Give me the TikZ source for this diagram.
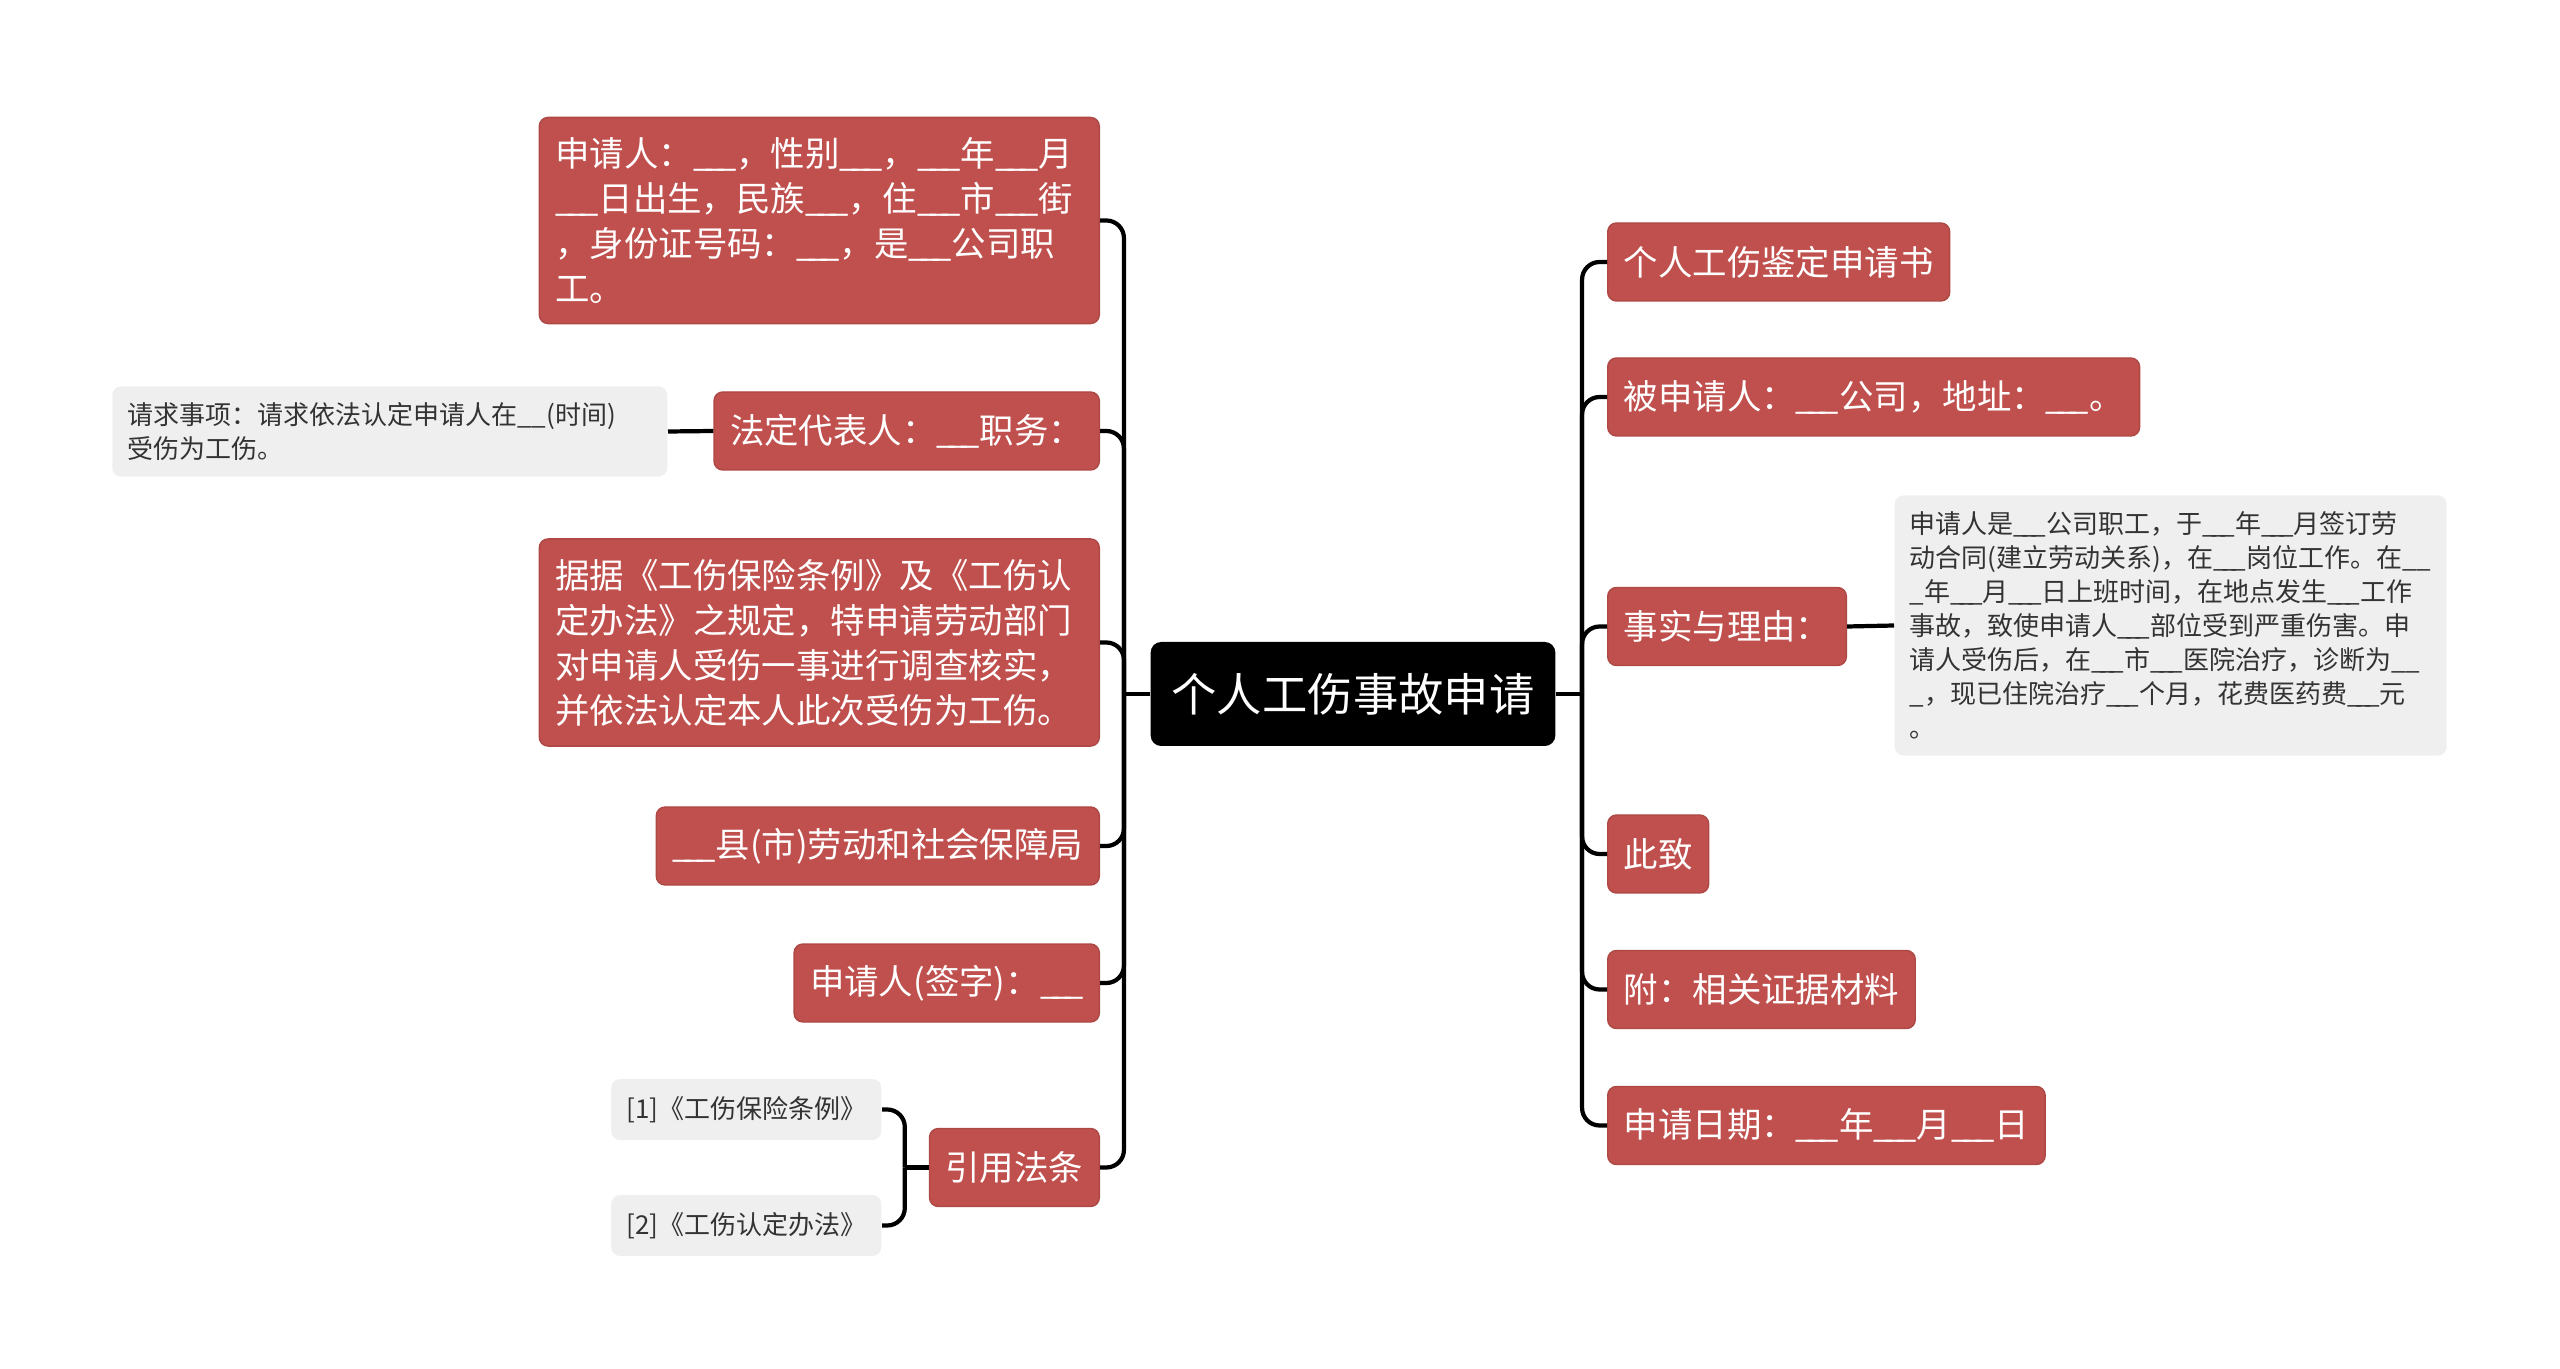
\documentclass[tikz,border=0pt]{standalone}
\usepackage{fontspec}
\setmainfont{Noto Sans CJK SC}
\usetikzlibrary{positioning}

\definecolor{boxred}{HTML}{C0504D}
\definecolor{boxgray}{HTML}{EFEFEF}
\definecolor{textgray}{HTML}{333333}
\newcommand{\blank}{\_\kern-0.21em\_\kern-0.21em\_}

\begin{document}
\begin{tikzpicture}[
  rootbox/.style={fill=black, rounded corners=3pt, text=white, font=\fontsize{12.9}{15}\selectfont, inner xsep=0.21cm, minimum height=1.04cm},
  redbox/.style={fill=boxred, draw=boxred!90!black, rounded corners=2.5pt, text=white, font=\fontsize{9.8}{12.8}\selectfont, inner xsep=0.16cm, inner ysep=0.2cm, minimum height=0.78cm, align=left},
  graybox/.style={fill=boxgray, rounded corners=2.5pt, text=textgray, font=\fontsize{7.4}{9.7}\selectfont, inner xsep=0.15cm, inner ysep=0.16cm, minimum height=0.61cm, align=left},
  link/.style={line width=1.2pt, rounded corners=5pt}]
  \useasboundingbox (0,0) rectangle (25.6,-13.69);

  % root
  \node (root) [rootbox] at (13.53,-6.94) {个人工伤事故申请};

  %%%%%%%%%%%%%%%%%% left branch
  \node (applicant) [redbox, anchor=east, text width=5.28cm] at (11,-2.205) {申请人：\blank，性别\blank，\blank 年\blank 月\\\blank 日出生，民族\blank，住\blank 市\blank 街\\，身份证号码：\blank，是\blank 公司职\\工。};

  \node (legalrep) [redbox, anchor=east] at (11,-4.31) {法定代表人：\blank 职务：};

  \node (request) [graybox, anchor=east, text width=5.25cm] at (6.68,-4.315) {请求事项：请求依法认定申请人在\_\_(时间)\\受伤为工伤。};

  \node (basis) [redbox, anchor=east, text width=5.28cm] at (11,-6.425) {据据《工伤保险条例》及《工伤认\\定办法》之规定，特申请劳动部门\\对申请人受伤一事进行调查核实，\\并依法认定本人此次受伤为工伤。};

  \node (bureau) [redbox, anchor=east] at (11,-8.46) {\blank 县(市)劳动和社会保障局};

  \node (signature) [redbox, anchor=east] at (11,-9.83) {申请人(签字)：\blank};

  \node (citation) [redbox, anchor=east] at (11,-11.675) {引用法条};

  \node (law1) [graybox, anchor=east] at (8.82,-11.095) {[1]《工伤保险条例》};

  \node (law2) [graybox, anchor=east] at (8.82,-12.255) {[2]《工伤认定办法》};

  %%%%%%%%%%%%%%%%%% right branch
  \node (title) [redbox, anchor=west] at (16.07,-2.62) {个人工伤鉴定申请书};

  \node (respondent) [redbox, anchor=west] at (16.07,-3.97) {被申请人：\blank 公司，地址：\blank。};

  \node (facts) [redbox, anchor=west] at (16.07,-6.265) {事实与理由：};

  \node (factstext) [graybox, anchor=west, text width=5.22cm] at (18.94,-6.255) {申请人是\blank 公司职工，于\blank 年\blank 月签订劳\\动合同(建立劳动关系)，在\blank 岗位工作。在\_\_\\\_年\blank 月\blank 日上班时间，在地点发生\blank 工作\\事故，致使申请人\blank 部位受到严重伤害。申\\请人受伤后，在\blank 市\blank 医院治疗，诊断为\_\_\\\_，现已住院治疗\blank 个月，花费医药费\blank 元\\。};

  \node (regards) [redbox, anchor=west] at (16.07,-8.54) {此致};

  \node (attach) [redbox, anchor=west] at (16.07,-9.895) {附：相关证据材料};

  \node (date) [redbox, anchor=west] at (16.07,-11.255) {申请日期：\blank 年\blank 月\blank 日};

  %%%%%%%%%%%%%%%%%%%%
  %%%%%%%%%%%%%%%%%%%%
  \coordinate (ltrunk) at ([xshift=-0.26cm]root.west);
  \coordinate (rtrunk) at ([xshift=0.26cm]root.east);
  \coordinate (ctrunk) at ([xshift=-0.24cm]citation.west);

  \draw [link] (root.west) -- (ltrunk);
  \draw [link] (ltrunk) |- (applicant.east);
  \draw [link] (ltrunk) |- (legalrep.east);
  \draw [link] (ltrunk) |- (basis.east);
  \draw [link] (ltrunk) |- (bureau.east);
  \draw [link] (ltrunk) |- (signature.east);
  \draw [link] (ltrunk) |- (citation.east);

  \draw [link] (legalrep.west) -- (request.east);
  \draw [link] (citation.west) -- (ctrunk);
  \draw [link] (ctrunk) |- (law1.east);
  \draw [link] (ctrunk) |- (law2.east);

  \draw [link] (root.east) -- (rtrunk);
  \draw [link] (rtrunk) |- (title.west);
  \draw [link] (rtrunk) |- (respondent.west);
  \draw [link] (rtrunk) |- (facts.west);
  \draw [link] (rtrunk) |- (regards.west);
  \draw [link] (rtrunk) |- (attach.west);
  \draw [link] (rtrunk) |- (date.west);

  \draw [link] (facts.east) -- (factstext.west);

\end{tikzpicture}
\end{document}
